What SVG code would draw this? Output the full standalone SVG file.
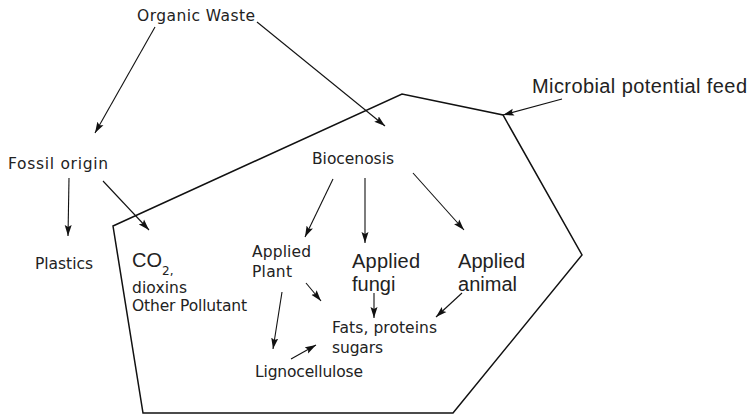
<svg xmlns="http://www.w3.org/2000/svg" width="752" height="416" viewBox="0 0 752 416">
<style>
.s{font-family:"DejaVu Sans",Tahoma,sans-serif;font-size:15.5px;fill:#222}
.b{font-family:"Liberation Sans",Arial,sans-serif;font-size:20px;fill:#222}
.c{stroke:#111;stroke-width:1.1;fill:none;marker-end:url(#ah)}
.p{stroke:#111;stroke-width:1.5;fill:none}
</style>
<defs>
<marker id="ah" markerUnits="userSpaceOnUse" markerWidth="12" markerHeight="8" refX="11" refY="4" orient="auto">
<path d="M0,0.5 L11,4 L0,7.5 L2,4 Z" fill="#111"/>
</marker>
</defs>
<rect width="752" height="416" fill="#fff"/>
<g id="boundary">
<polygon class="p" points="113,226 402,94 503,115 582,255 453,413 143,413"/>
</g>
<g id="organic-waste"><text class="s" x="137" y="21" textLength="118">Organic Waste</text></g>
<g id="fossil-origin"><text class="s" x="8" y="169" textLength="100">Fossil origin</text></g>
<g id="plastics"><text class="s" x="35" y="269" textLength="58">Plastics</text></g>
<g id="pollutants">
<text class="b" x="132" y="267">CO<tspan dy="8" font-size="12" font-family="DejaVu Sans, sans-serif">2,</tspan></text>
<text class="s" x="132" y="293" font-size="14" textLength="55">dioxins</text>
<text class="s" x="132" y="311" font-size="14" textLength="115">Other Pollutant</text>
</g>
<g id="biocenosis"><text class="s" x="312" y="164" textLength="82">Biocenosis</text></g>
<g id="applied-plant">
<text class="s" x="252" y="257" textLength="59">Applied</text>
<text class="s" x="252" y="277" textLength="40">Plant</text>
</g>
<g id="applied-fungi">
<text class="b" x="352" y="268" textLength="68">Applied</text>
<text class="b" x="352" y="291">fungi</text>
</g>
<g id="applied-animal">
<text class="b" x="458" y="268" textLength="67">Applied</text>
<text class="b" x="458" y="291" textLength="59">animal</text>
</g>
<g id="fats">
<text class="s" x="332" y="333" textLength="105">Fats, proteins</text>
<text class="s" x="332" y="353" textLength="51">sugars</text>
</g>
<g id="lignocellulose"><text class="s" x="255" y="377" textLength="108">Lignocellulose</text></g>
<g id="microbial-feed"><text class="b" x="532" y="93" textLength="215">Microbial potential feed</text></g>
<g id="connectors">
<line class="c" x1="155" y1="27" x2="95" y2="133"/>
<line class="c" x1="257" y1="22" x2="385" y2="126"/>
<line class="c" x1="562" y1="99" x2="503" y2="115"/>
<line class="c" x1="69" y1="178" x2="68" y2="236"/>
<line class="c" x1="103" y1="181" x2="149" y2="230"/>
<line class="c" x1="333" y1="179" x2="305" y2="237"/>
<line class="c" x1="365" y1="178" x2="365" y2="243"/>
<line class="c" x1="413" y1="173" x2="464" y2="230"/>
<line class="c" x1="306" y1="283" x2="321" y2="301"/>
<line class="c" x1="282" y1="292" x2="273" y2="349"/>
<line class="c" x1="374" y1="293" x2="374" y2="318"/>
<line class="c" x1="462" y1="293" x2="436" y2="317"/>
<line class="c" x1="291" y1="359" x2="316" y2="345"/>
</g>
</svg>
